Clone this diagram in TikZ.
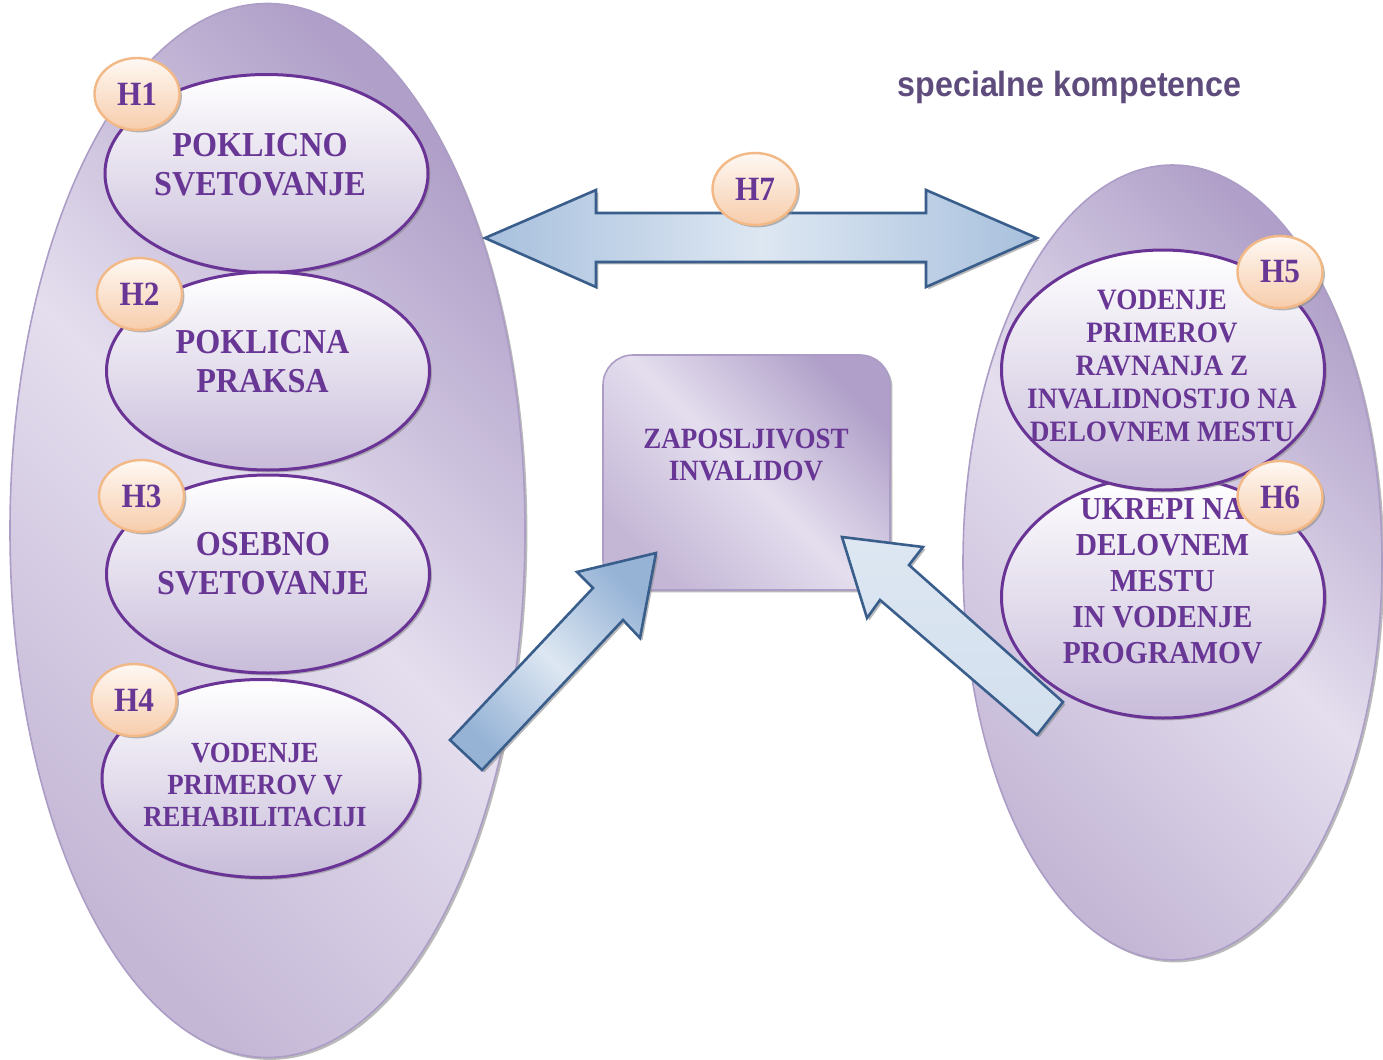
\documentclass[tikz,border=0pt]{standalone}
\usepackage{fontspec}
\setmainfont{Liberation Serif}[FakeStretch=0.92]
\setsansfont{Liberation Sans}[FakeStretch=0.92]
\usepackage{xcolor}
\usetikzlibrary{shapes.geometric, shadows}

\definecolor{txtpurple}{RGB}{104,54,148}
\definecolor{ovalline}{RGB}{106,52,150}
\definecolor{ovalbot}{RGB}{200,188,218}
\definecolor{lavdark}{RGB}{176,160,201}
\definecolor{lavmid}{RGB}{196,183,214}
\definecolor{lavlight}{RGB}{228,222,238}
\definecolor{lavline}{RGB}{172,157,198}
\definecolor{peachtop}{RGB}{254,248,243}
\definecolor{peachbot}{RGB}{247,205,172}
\definecolor{peachline}{RGB}{242,184,134}
\definecolor{arrowlight}{RGB}{221,231,242}
\definecolor{arrowdark}{RGB}{150,179,214}
\definecolor{arrowline}{RGB}{58,94,140}
\definecolor{headgray}{RGB}{94,76,124}

\begin{document}
\begin{tikzpicture}[x=0.5pt, y=-0.5pt,
	myshadow/.style={drop shadow={shadow xshift=1.2pt, shadow yshift=-1.2pt, fill=black!45, opacity=0.6}},
	bigoval/.style={ellipse, draw=lavline, line width=0.8pt, top color=lavdark, bottom color=lavmid, middle color=lavlight, shading angle=-45, myshadow},
	oval/.style={ellipse, draw=ovalline, line width=1.5pt, top color=white, bottom color=ovalbot, minimum width=161.5pt, minimum height=99pt, myshadow},
	ovaltext/.style={font=\bfseries\fontsize{17.5}{19.5}\selectfont, text=txtpurple, align=center, inner sep=0pt},
	badge/.style={ellipse, draw=peachline, line width=1.2pt, top color=peachtop, bottom color=peachbot, minimum width=42.5pt, minimum height=36pt, inner sep=0pt, font=\bfseries\fontsize{17}{19}\selectfont, text=txtpurple, myshadow},
	hubbox/.style={rectangle, rounded corners=15pt, draw=lavline, line width=0.8pt, top color=lavdark, bottom color=lavmid, middle color=lavlight, shading angle=-45, minimum width=143.5pt, minimum height=117.5pt, myshadow},
	blockarrow/.style={draw=arrowline, line width=1.3pt, line join=miter, myshadow},
	headtext/.style={font=\sffamily\bfseries\fontsize{17.5}{20}\selectfont, text=headgray}]

	\useasboundingbox (0,0) rectangle (1383,1060);

	% outer groups
	\node[bigoval, minimum width=257.5pt, minimum height=527pt] (leftgroup) at (267.5,530.5) {};
	\node[bigoval, minimum width=209.5pt, minimum height=397.5pt] (rightgroup) at (1172.5,562.5) {};

	% title
	\node[headtext, anchor=base] (title) at (1069.5,97) {specialne kompetence};

	% left ovals
	\node[oval] (poksvet) at (266.5,173.5) {};
	\node[oval] (pokprak) at (268,371) {};
	\node[oval] (osvet) at (268,574) {};
	\node[oval, minimum width=159pt] (vodreh) at (261,778.5) {};

	% right ovals
	\node[oval, minimum height=121pt] (ukrepi) at (1163,597) {};
	\node[oval, minimum height=120pt] (vodravn) at (1163,370) {};

	% centre box
	\node[hubbox] (hub) at (746.5,472.5) {};

	% block arrows
	\draw[blockarrow, left color=arrowdark!75!arrowlight, right color=arrowdark!75!arrowlight, middle color=arrowlight]
		(485,238) -- (596,190) -- (596,213) -- (926,213) -- (926,190) -- (1037,238)
		-- (926,287) -- (926,262) -- (596,262) -- (596,287) -- cycle;
	\draw[blockarrow, top color=arrowdark, bottom color=arrowdark, middle color=arrowlight, shading angle=-45]
		(656,553) -- (640,638) -- (623,620) -- (482,770) -- (450,740) -- (593,588) -- (577,572) -- cycle;
	\draw[blockarrow, top color=arrowlight, bottom color=arrowlight!85!arrowdark]
		(842,537) -- (923,547) -- (909,565) -- (1063,702) -- (1037,735) -- (880,600) -- (867,618) -- cycle;

	% texts
	\node[ovaltext] (poksvettxt) at (260,165) {POKLICNO\\SVETOVANJE};
	\node[ovaltext] (pokpraktxt) at (262.5,361.5) {POKLICNA\\PRAKSA};
	\node[ovaltext] (osvettxt) at (263,564) {OSEBNO\\SVETOVANJE};
	\node[ovaltext, font=\bfseries\fontsize{14.6}{16}\selectfont] (vodrehtxt) at (255,785) {VODENJE\\PRIMEROV V\\REHABILITACIJI};
	\node[ovaltext, font=\bfseries\fontsize{14.8}{16.5}\selectfont] (vodravntxt) at (1162,366) {VODENJE\\PRIMEROV\\RAVNANJA Z\\INVALIDNOSTJO NA\\DELOVNEM MESTU};
	\node[ovaltext, font=\bfseries\fontsize{16}{18}\selectfont] (ukrepitxt) at (1162.5,581) {UKREPI NA\\DELOVNEM\\MESTU\\IN VODENJE\\PROGRAMOV};
	\node[ovaltext, font=\bfseries\fontsize{14.7}{16}\selectfont] (hubtxt) at (746,455) {ZAPOSLJIVOST\\INVALIDOV};

	% badges
	\node[badge] (hone) at (137,94) {H1};
	\node[badge] (htwo) at (139.5,294) {H2};
	\node[badge] (hthree) at (141.5,496) {H3};
	\node[badge] (hfour) at (134,700) {H4};
	\node[badge] (hfive) at (1280,272) {H5};
	\node[badge] (hsix) at (1280,497) {H6};
	\node[badge] (hseven) at (755,189) {H7};
\end{tikzpicture}
\end{document}
